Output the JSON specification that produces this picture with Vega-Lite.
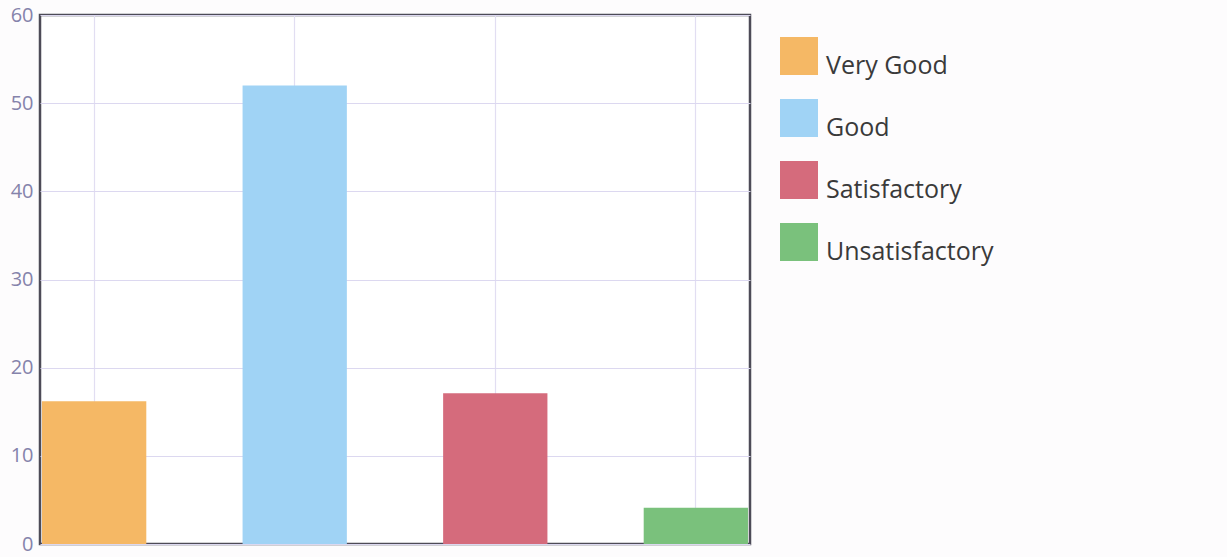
{
  "$schema": "https://vega.github.io/schema/vega-lite/v6.json",
  "width": 710,
  "height": 529,
  "autosize": {"type": "none"},
  "padding": {"left": 40, "top": 15, "right": 477, "bottom": 13},
  "background": "#fdfcfd",
  "config": {
    "view": {"stroke": "#4d4b57", "strokeWidth": 2.5, "fill": "#ffffff"},
    "font": "Open Sans"
  },
  "data": {
    "values": [
      {"rating": "Very Good", "value": 16.2},
      {"rating": "Good", "value": 52.0},
      {"rating": "Satisfactory", "value": 17.1},
      {"rating": "Unsatisfactory", "value": 4.1}
    ]
  },
  "mark": {"type": "bar"},
  "encoding": {
    "x": {
      "field": "rating",
      "type": "nominal",
      "sort": ["Very Good", "Good", "Satisfactory", "Unsatisfactory"],
      "scale": {"paddingInner": 0.48, "paddingOuter": 0.01},
      "axis": {
        "title": null,
        "labels": false,
        "ticks": false,
        "domain": false,
        "grid": true,
        "gridColor": "#e2def2",
        "gridWidth": 1.2
      }
    },
    "y": {
      "field": "value",
      "type": "quantitative",
      "scale": {"domain": [0, 60], "nice": false},
      "axis": {
        "title": null,
        "values": [0, 10, 20, 30, 40, 50, 60],
        "ticks": false,
        "domain": false,
        "labelFont": "Open Sans",
        "labelFontSize": 20,
        "labelColor": "#8583ab",
        "labelPadding": 7,
        "gridColor": "#dcd8f0",
        "gridWidth": 1.2
      }
    },
    "color": {
      "field": "rating",
      "type": "nominal",
      "scale": {
        "domain": ["Very Good", "Good", "Satisfactory", "Unsatisfactory"],
        "range": ["#f5b865", "#a0d3f5", "#d56b7c", "#7ac17c"]
      },
      "legend": {
        "orient": "none",
        "legendX": 740,
        "legendY": 22,
        "title": null,
        "symbolType": "square",
        "symbolSize": 1444,
        "symbolStrokeWidth": 0,
        "symbolOpacity": 1,
        "labelFont": "Open Sans",
        "labelFontSize": 25,
        "labelColor": "#3a3a3a",
        "labelOffset": 8,
        "rowPadding": 20,
        "labelLimit": 400,
        "encode": {"labels": {"update": {"dy": {"value": 10}}}}
      }
    }
  }
}
